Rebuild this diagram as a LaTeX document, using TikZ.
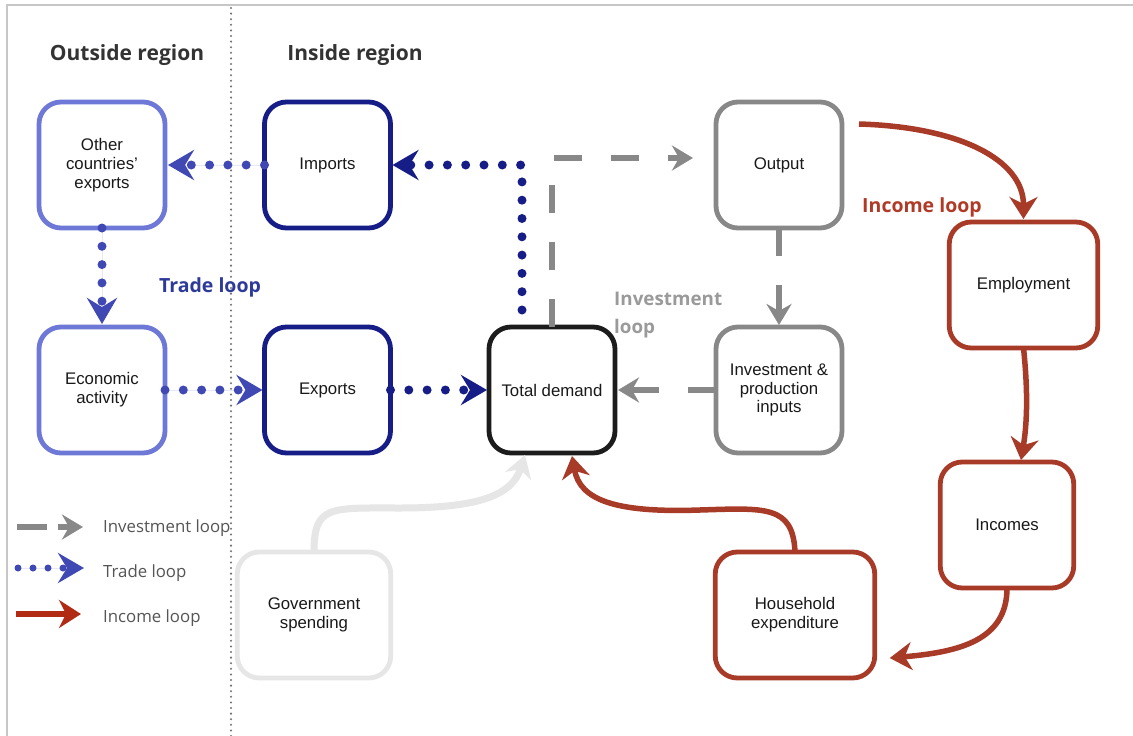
\documentclass[tikz,border=0pt]{standalone}
\usepackage{fontspec}
\setmainfont{Liberation Sans}
\newfontfamily\osans{Open Sans}
\usetikzlibrary{arrows.meta,calc}

\definecolor{navy}{HTML}{161D87}
\definecolor{mblue}{HTML}{3F48B3}
\definecolor{lblue}{HTML}{6E78D6}
\definecolor{tgrey}{HTML}{888888}
\definecolor{lgreyt}{HTML}{9A9A9A}
\definecolor{ired}{HTML}{A83A28}
\definecolor{lgrey}{HTML}{E6E6E6}
\definecolor{tdark}{HTML}{1C1C1C}
\definecolor{ttitle}{HTML}{333333}
\definecolor{tleg}{HTML}{555555}
\definecolor{ttrade}{HTML}{2E3A9A}
\definecolor{tinc}{HTML}{B03A26}
\definecolor{legred}{HTML}{B02A14}

\begin{document}
\begin{tikzpicture}[x=1pt,y=-1pt,
  box/.style={draw, rounded corners=22pt, line width=4.8pt,
    minimum width=#1, minimum height=126pt, align=center,
    font=\fontsize{16.8}{18.8}\selectfont, text=black!90,
    inner sep=0pt, outer sep=0pt},
  box/.default=126pt,
  title/.style={font=\osans\bfseries\fontsize{21}{24}\selectfont, text=ttitle, anchor=base, inner sep=0pt},
  looplbl/.style={font=\osans\bfseries\fontsize{19.5}{24}\selectfont, anchor=base, inner sep=0pt},
  leglbl/.style={font=\osans\fontsize{16.8}{20}\selectfont, text=tleg, anchor=base west, inner sep=0pt},
  invl/.style={draw=tgrey, line width=6pt, dash pattern=on 28pt off 29pt,
    -{Stealth[length=21pt,width=25pt,inset=7pt]}},
  tradeN/.style={draw=navy, line width=9pt, line cap=round, dash pattern=on 0pt off 18.3pt,
    -{Stealth[length=26pt,width=30pt,inset=9pt]}},
  tradeM/.style={tradeN, draw=mblue, fill=mblue},
  incl/.style={draw=ired, line width=5.5pt, -{Stealth[length=22pt,width=28pt,inset=7pt]}},
  govl/.style={draw=lgrey, line width=7pt, -{Stealth[length=22pt,width=27pt,inset=7pt]}}
]
\useasboundingbox (0,0) rectangle (1133,736);
\fill[white] (0,0) rectangle (1133,736);
\draw[black!22, line width=1.3pt] (7,736) -- (7,5) -- (1133,5);
\draw[black!55, line width=2.3pt, line cap=round, dash pattern=on 0pt off 5.6pt] (231,8) -- (231,736);

% titles
\node[title] (tout) at (127,60) {Outside region};
\node[title] (tin) at (355,60) {Inside region};
\node[looplbl, text=ttrade] (ttr) at (210,292) {Trade loop};
\node[looplbl, text=tinc] (tic) at (922,212) {Income loop};
\node[font=\osans\bfseries\fontsize{18.8}{28}\selectfont, text=lgreyt, align=left, anchor=north west, inner sep=0pt] (tiv) at (614,292) {Investment\\loop};

% boxes
\node[box, draw=lblue] (oce) at (102,165) {Other\\countries'\\exports};
\node[box, draw=navy] (imp) at (327.5,165) {Imports};
\node[box, draw=lblue] (eco) at (102,390) {Economic\\activity};
\node[box, draw=navy] (exp) at (327.5,390) {Exports};
\node[box, draw=tdark] (td) at (552,390) {Total demand};
\node[box, draw=tgrey] (out) at (779,165) {Output};
\node[box, draw=tgrey] (inv) at (779,390) {Investment \&\\production\\inputs};
\node[box=148.5pt, draw=ired] (emp) at (1023.5,285) {Employment};
\node[box=133.5pt, draw=ired] (inc) at (1007,525) {Incomes};
\node[box=159.5pt, draw=ired] (hh) at (795,615) {Household\\expenditure};
\node[box=153.5pt, draw=lgrey] (gov) at (314,615) {Government\\spending};

% trade loop
\draw[tradeM] (imp.west) -- ($(oce.east)+(3,0)$);
\draw[tradeM] (oce.south) -- ($(eco.north)+(0,-3)$);
\draw[tradeM] (eco.east) -- ($(exp.west)+(-2,0)$);
\draw[tradeN] (exp.east) -- ($(td.west)+(-2,0)$);
\draw[tradeN] ($(td.north)+(-30,-17)$) |- ($(imp.east)+(2,0)$);

% investment loop
\draw[invl] (td.north) |- ($(out.west)+(-23,-7)$);
\draw[invl] (out.south) -- ($(inv.north)+(0,-2)$);
\draw[invl] (inv.west) -- ($(td.east)+(3,0)$);

% income loop
\draw[incl] ($(out.north east)+(17,22)$) .. controls (960,127) and (1023.5,160) .. ($(emp.north)+(0,-3)$);
\draw[incl] (emp.south) .. controls (1029,400) and (1026,430) .. ($(inc.north)+(14,-2)$);
\draw[incl] (inc.south) .. controls (1007,640) and (960,652) .. ($(hh.south east)+(15,-20)$);
\draw[incl] (hh.north) .. controls (793,505) and (765,508) .. (700,510)
  .. controls (615,513) and (580,500) .. ($(td.south)+(20,3)$);

% government
\draw[govl] (gov.north) .. controls (314,505) and (330,508) .. (400,508)
  .. controls (480,508) and (512,495) .. ($(td.south)+(-27,2)$);

% legend
\coordinate (l1a) at (17,527); \coordinate (l1b) at (83,527);
\coordinate (l2a) at (18,568); \coordinate (l2b) at (84,568);
\coordinate (l3a) at (16,614); \coordinate (l3b) at (81,614);
\draw[invl, dash pattern=on 30pt off 11pt] (l1a) -- (l1b);
\draw[tradeM, line width=7pt, dash pattern=on 0pt off 15pt] (l2a) -- (l2b);
\draw[incl, draw=legred, line width=6pt] (l3a) -- (l3b);
\node[leglbl] (lg1) at (103,532) {Investment loop};
\node[leglbl] (lg2) at (103,577) {Trade loop};
\node[leglbl] (lg3) at (103,622) {Income loop};
\end{tikzpicture}
\end{document}
